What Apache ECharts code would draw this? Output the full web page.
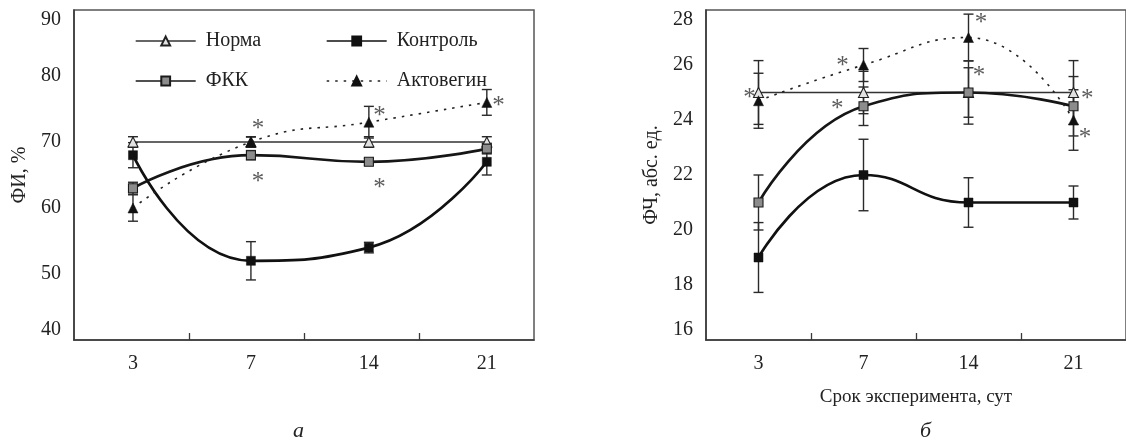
<!DOCTYPE html>
<html>
<head>
<meta charset="utf-8">
<script src="https://cdn.jsdelivr.net/npm/echarts@6/dist/echarts.min.js"></script>
<style>html,body{margin:0;padding:0;background:#fff}#c{width:1126px;height:445px}</style>
</head>
<body>
<div id="c"></div>
<script>
// Categories (days of experiment)
const days = ['3', '7', '14', '21'];

// Chart а: ФИ, %
const fiNorma = [70, 70, 70, 70];
const fiNormaErr = [0.8, 0.8, 0.8, 0.8];
const fiControl = [68, 52, 54, 67];
const fiControlErr = [1.9, 2.9, 0.8, 2.0];
const fiFKK = [63, 68, 67, 69];
const fiFKKErr = [0.9, 0.7, 0.5, 0.8];
const fiActo = [60, 70, 73, 76];
const fiActoErr = [2.0, 0.75, 2.4, 1.95];
const fiStars = [[1.06, 72.8], [1.06, 64.8], [2.09, 74.8], [2.09, 63.8], [3.1, 76.3]];
const fiTicks = [40, 50, 60, 70, 80, 90];

// Chart б: ФЧ, абс. ед.
const fcNorma = [25, 25, 25, 25];
const fcNormaErr = [1.16, 0.77, 0.9, 1.16];
const fcControl = [19, 22, 21, 21];
const fcControlErr = [1.27, 1.3, 0.9, 0.6];
const fcFKK = [21, 24.5, 25, 24.5];
const fcFKKErr = [1.0, 0.7, 1.15, 1.08];
const fcActo = [24.7, 26, 27, 24];
const fcActoErr = [1.0, 0.6, 0.85, 1.1];
const fcStars = [[-0.085, 25], [0.8, 26.16], [0.75, 24.6], [2.12, 27.72], [2.1, 25.82], [3.13, 24.96], [3.11, 23.56]];
const fcTicks = [16, 18, 20, 22, 24, 26, 28];

const FONT = 'Liberation Serif';
const TXT = '#222';
const AX = '#3a3a3a';

const pts = arr => arr.map((v, i) => [i, v]);
const errs = (arr, e) => arr.map((v, i) => [i, v - e[i], v + e[i]]);

function errRender(params, api) {
  const x = api.value(0), lo = api.value(1), hi = api.value(2);
  const a = api.coord([x, lo]), b = api.coord([x, hi]);
  const w = 5;
  const st = { stroke: '#2a2a2a', lineWidth: 1.4 };
  return {
    type: 'group', children: [
      { type: 'line', shape: { x1: a[0], y1: a[1], x2: b[0], y2: b[1] }, style: st },
      { type: 'line', shape: { x1: a[0] - w, y1: a[1], x2: a[0] + w, y2: a[1] }, style: st },
      { type: 'line', shape: { x1: b[0] - w, y1: b[1], x2: b[0] + w, y2: b[1] }, style: st }
    ]
  };
}

function xAxis(gi, min, max, name) {
  const q = [1, 2, 3].map(k => min + k * (max - min) / 4);
  return {
    type: 'value', gridIndex: gi, min: min, max: max,
    splitLine: { show: false },
    axisLine: { show: true, onZero: false, lineStyle: { color: AX, width: 1.6 } },
    axisTick: { show: true, inside: true, length: 7, customValues: q, lineStyle: { color: AX, width: 1.3 } },
    axisLabel: { customValues: days.map((d, i) => i), formatter: v => days[Math.round(v)], margin: 14,
      fontFamily: FONT, fontSize: 20, color: TXT },
    name: name || '', nameLocation: 'middle', nameGap: 48,
    nameTextStyle: { fontFamily: FONT, fontSize: 19, color: TXT }
  };
}

function yAxis(gi, ticks, name) {
  return {
    type: 'value', gridIndex: gi, min: ticks[0], max: ticks[ticks.length - 1], interval: ticks[1] - ticks[0],
    splitLine: { show: false },
    axisLine: { show: true, onZero: false, lineStyle: { color: AX, width: 1.6 } },
    axisTick: { show: false },
    axisLabel: { margin: 13, fontFamily: FONT, fontSize: 20, color: TXT,
      verticalAlignMaxLabel: 'top', verticalAlignMinLabel: 'bottom' },
    name: name, nameLocation: 'middle', nameGap: 44, nameRotate: 90,
    nameTextStyle: { fontFamily: FONT, fontSize: 20, color: TXT }
  };
}

function seriesFor(gi, d) {
  const base = { xAxisIndex: gi, yAxisIndex: gi, animation: false, z: 3 };
  return [
    { type: 'custom', name: 'err' + gi, xAxisIndex: gi, yAxisIndex: gi, renderItem: errRender, z: 2, silent: true,
      data: [].concat(errs(d.norma, d.normaErr), errs(d.control, d.controlErr), errs(d.fkk, d.fkkErr), errs(d.acto, d.actoErr)) },
    Object.assign({}, base, { type: 'line', name: 'Норма', data: pts(d.norma), smooth: false,
      symbol: 'triangle', symbolSize: 10,
      lineStyle: { color: '#333', width: 1.4 },
      itemStyle: { color: '#e2e2e2', borderColor: '#222', borderWidth: 1.1 } }),
    Object.assign({}, base, { type: 'line', name: 'ФКК', data: pts(d.fkk), smooth: 0.5,
      symbol: 'rect', symbolSize: 9,
      lineStyle: { color: '#161616', width: 2.7 },
      itemStyle: { color: '#8c8c8c', borderColor: '#1a1a1a', borderWidth: 1.1 } }),
    Object.assign({}, base, { type: 'line', name: 'Контроль', data: pts(d.control), smooth: 0.5,
      symbol: 'rect', symbolSize: 9,
      lineStyle: { color: '#111', width: 2.7 },
      itemStyle: { color: '#111', borderColor: '#111', borderWidth: 0.5 } }),
    Object.assign({}, base, { type: 'line', name: 'Актовегин', data: pts(d.acto), smooth: 0.5,
      symbol: 'triangle', symbolSize: 10,
      lineStyle: { color: '#222', width: 1.6, type: [2.5, 6] },
      itemStyle: { color: '#111', borderColor: '#111', borderWidth: 0.5 } }),
    { type: 'scatter', name: 'stars' + gi, xAxisIndex: gi, yAxisIndex: gi, data: d.stars, silent: true, z: 4,
      symbol: 'circle', symbolSize: 1, itemStyle: { color: 'rgba(0,0,0,0)' },
      label: { show: true, position: 'inside', formatter: '*', offset: [0, 6],
        fontFamily: FONT, fontSize: 25, color: '#333' } }
  ];
}

const chart = echarts.init(document.getElementById('c'), null, { renderer: 'canvas' });
const legendBase = {
  orient: 'vertical', itemWidth: 60, itemHeight: 11, itemGap: 20, selectedMode: false,
  lineStyle: { width: 1.4 },
  textStyle: { fontFamily: FONT, fontSize: 20, color: TXT, padding: [0, 0, 0, 5] }
};
chart.setOption({
  animation: false,
  backgroundColor: '#fff',
  grid: [
    { left: 74, top: 10, width: 460, height: 330, show: true, borderColor: '#555', borderWidth: 1.5 },
    { left: 706, top: 10, width: 435, height: 330, show: true, borderColor: '#555', borderWidth: 1.5 }
  ],
  legend: [
    Object.assign({}, legendBase, { left: 130, top: 26, data: ['Норма', 'ФКК'] }),
    Object.assign({}, legendBase, { left: 321, top: 26, data: ['Контроль', 'Актовегин'] })
  ],
  xAxis: [xAxis(0, -0.5, 3.4), xAxis(1, -0.5, 3.5, 'Срок эксперимента, сут')],
  yAxis: [yAxis(0, fiTicks, 'ФИ, %'), yAxis(1, fcTicks, 'ФЧ, абс. ед.')],
  graphic: [
    { type: 'text', left: 293, top: 420, style: { text: 'а', font: 'italic 22px "Liberation Serif"', fill: TXT } },
    { type: 'text', left: 920, top: 420, style: { text: 'б', font: 'italic 22px "Liberation Serif"', fill: TXT } }
  ],
  series: [].concat(
    seriesFor(0, { norma: fiNorma, normaErr: fiNormaErr, control: fiControl, controlErr: fiControlErr,
      fkk: fiFKK, fkkErr: fiFKKErr, acto: fiActo, actoErr: fiActoErr, stars: fiStars }),
    seriesFor(1, { norma: fcNorma, normaErr: fcNormaErr, control: fcControl, controlErr: fcControlErr,
      fkk: fcFKK, fkkErr: fcFKKErr, acto: fcActo, actoErr: fcActoErr, stars: fcStars })
  )
});
</script>
</body>
</html>
